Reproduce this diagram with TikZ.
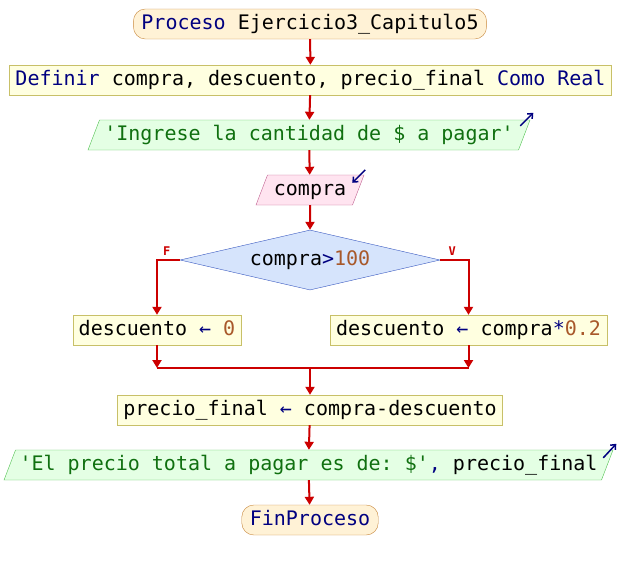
\documentclass[tikz,border=0pt]{standalone}
\usepackage{fontspec}
\setmonofont{DejaVu Sans Mono}
\usetikzlibrary{shapes.geometric,arrows.meta}

\definecolor{rojo}{HTML}{CC0000}
\definecolor{azul}{HTML}{000080}
\definecolor{verde}{HTML}{107010}
\definecolor{cafe}{HTML}{A8582A}
\definecolor{bordeterm}{HTML}{C8883C}
\definecolor{rellenoterm}{HTML}{FFF2D6}
\definecolor{bordeasig}{HTML}{C8C068}
\definecolor{rellenoasig}{HTML}{FFFFE0}
\definecolor{bordesal}{HTML}{50C050}
\definecolor{rellenosal}{HTML}{E4FFE4}
\definecolor{bordeent}{HTML}{C06090}
\definecolor{rellenoent}{HTML}{FFE4F0}
\definecolor{bordedec}{HTML}{3858C0}
\definecolor{rellenodec}{HTML}{D6E4FC}
\newcommand{\kw}[1]{\textcolor{azul}{#1}}
\newcommand{\cad}[1]{\textcolor{verde}{#1}}
\newcommand{\nro}[1]{\textcolor{cafe}{#1}}
\newcommand{\asg}{\kw{←}}

\tikzset{
  texto/.style={font=\ttfamily\fontsize{20}{24}\selectfont, text height=14, text depth=4},
  terminal/.style={texto, draw=bordeterm, fill=rellenoterm, rounded corners=12, minimum height=30, inner xsep=8},
  asig/.style={texto, draw=bordeasig, fill=rellenoasig, minimum height=30, inner xsep=6},
  salida/.style={texto, trapezium, trapezium left angle=65, trapezium right angle=115, trapezium stretches body, draw=bordesal, fill=rellenosal, minimum height=30, inner xsep=4},
  entrada/.style={salida, draw=bordeent, fill=rellenoent},
  decision/.style={texto, diamond, aspect=4.3, draw=bordedec, fill=rellenodec, inner sep=0, minimum width=260, minimum height=60},
  flecha/.style={draw=rojo, line width=2, -{Triangle[length=8,width=9]}},
  linea/.style={draw=rojo, line width=2},
  icono/.style={draw=azul, line width=1.5, -{Straight Barb[length=4,width=7]}},
  rotulo/.style={font=\ttfamily\bfseries\fontsize{12}{14}\selectfont, text=rojo, inner sep=1}
}

\begin{document}
\begin{tikzpicture}[x=1pt, y=-1pt]
  \useasboundingbox (0,0) rectangle (620,570);

  \node[terminal] (inicio) at (310,24) {\kw{Proceso} Ejercicio3\_Capitulo5};
  \node[asig] (definir) at (310.5,80) {\kw{Definir} compra, descuento, precio\_final \kw{Como Real}};
  \node[salida, minimum width=442] (pedir) at (309,135) {\cad{'Ingrese la cantidad de \$ a pagar'}};
  \node[entrada, minimum width=108] (leer) at (310,190) {compra};
  \node[decision] (cond) at (310,260) {compra\kw{>}\nro{100}};
  \node[asig] (izq) at (157,330) {descuento \asg{} \nro{0}};
  \node[asig] (der) at (468.5,330) {descuento \asg{} compra\kw{*}\nro{0.2}};
  \node[asig] (calc) at (310,410) {precio\_final \asg{} compra-descuento};
  \node[salida, minimum width=607] (mostrar) at (308.5,465) {\cad{'El precio total a pagar es de: \$'}\kw{,} precio\_final};
  \node[terminal] (fin) at (310,520) {\kw{FinProceso}};

  \coordinate (union) at (310,368);

  \draw[flecha] (inicio) -- (definir);
  \draw[flecha] (definir) -- (pedir);
  \draw[flecha] (pedir) -- (leer);
  \draw[flecha] (leer) -- (cond);
  \draw[flecha] (cond.west) -| (izq.north);
  \draw[flecha] (cond.east) -| (der.north);
  \draw[flecha] (izq.south) -- (izq.south |- union);
  \draw[flecha] (der.south) -- (der.south |- union);
  \draw[linea] (izq.south |- union) -- (der.south |- union);
  \draw[flecha] (union) -- (calc.north);
  \draw[flecha] (calc) -- (mostrar);
  \draw[flecha] (mostrar) -- (fin);

  \node[rotulo, anchor=south] at ([shift={(-13,-3)}]cond.west) {F};
  \node[rotulo, anchor=south] at ([shift={(12,-3)}]cond.east) {V};

  % iconos de entrada/salida
  \draw[icono] ([shift={(-10,6)}]pedir.top right corner) -- ++(13,-13);
  \draw[icono] ([shift={(1,-5)}]leer.top right corner) -- ++(-13,13);
  \draw[icono] ([shift={(-10,8)}]mostrar.top right corner) -- ++(13,-14);
\end{tikzpicture}
\end{document}
